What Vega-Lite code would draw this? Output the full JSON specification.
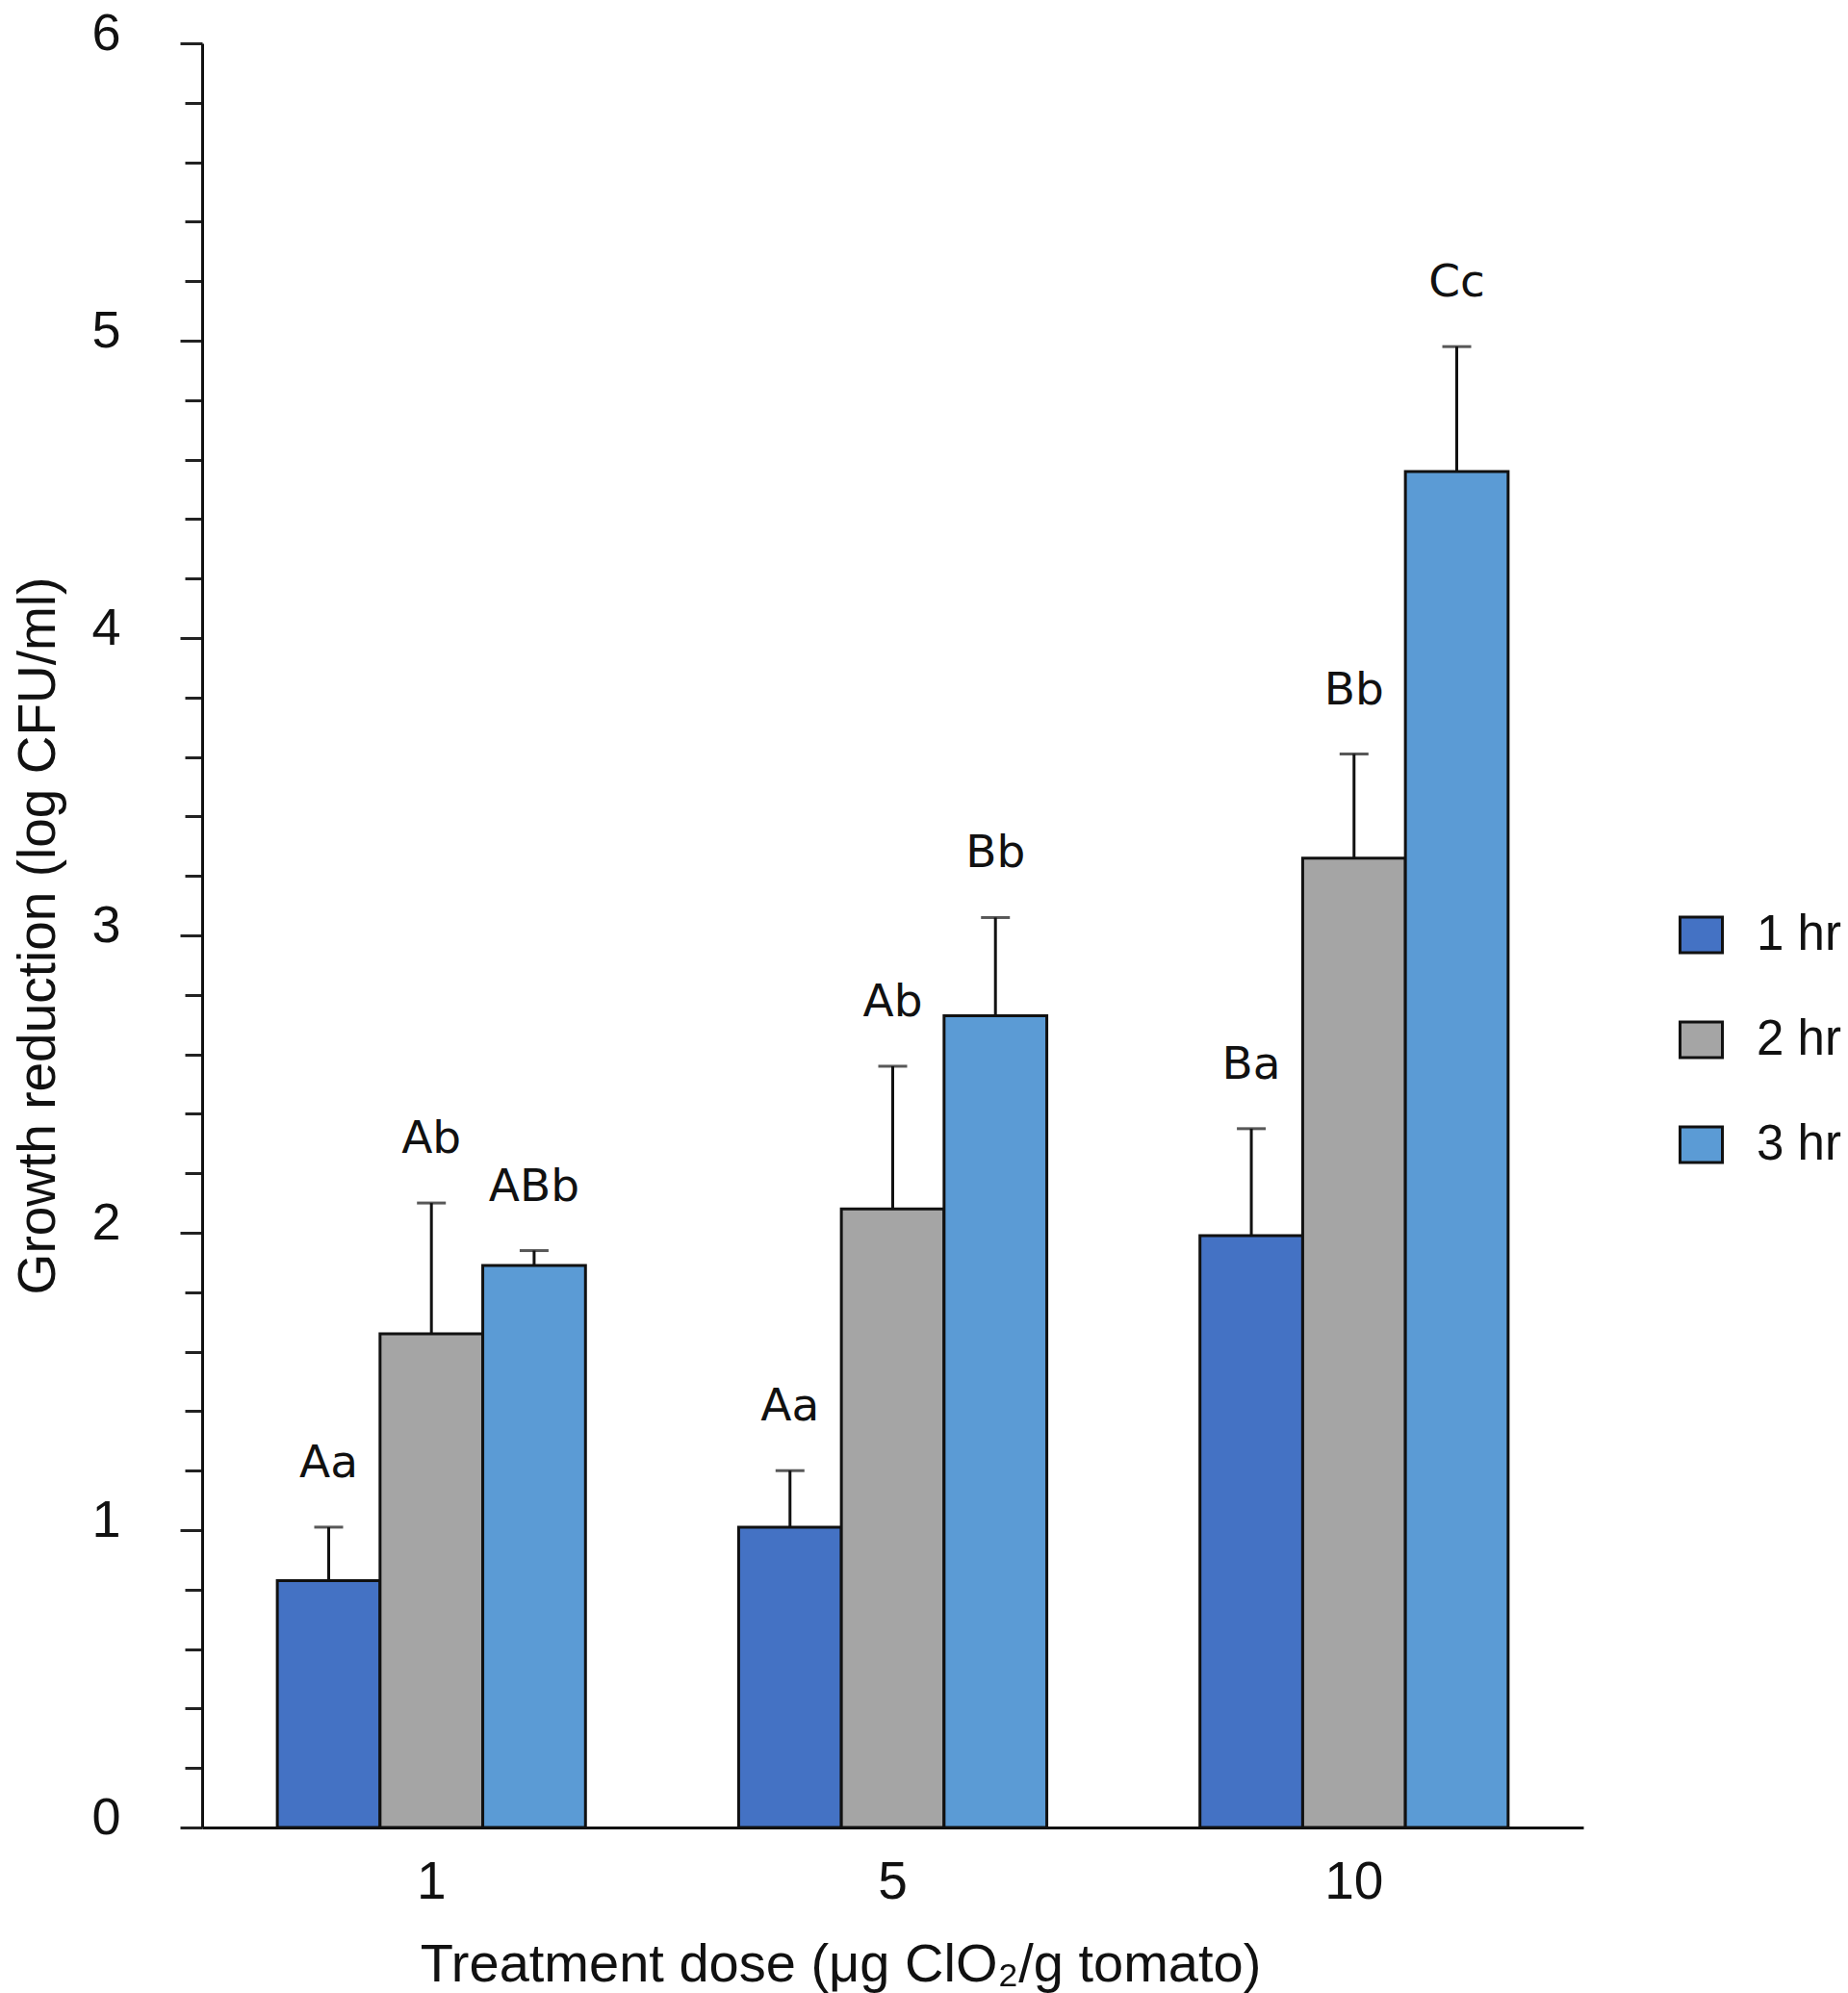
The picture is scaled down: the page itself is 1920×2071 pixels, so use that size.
{
  "$schema": "https://vega.github.io/schema/vega-lite/v6.json",
  "autosize": {"type": "none"},
  "width": 1435,
  "height": 1854,
  "padding": {"left": 210, "top": 45, "right": 275, "bottom": 172},
  "background": "white",
  "data": {
    "values": [
      {"dose": "1", "time": "1 hr", "mean": 0.83, "upper": 1.01, "label": "Aa"},
      {"dose": "1", "time": "2 hr", "mean": 1.66, "upper": 2.1, "label": "Ab"},
      {"dose": "1", "time": "3 hr", "mean": 1.89, "upper": 1.94, "label": "ABb"},
      {"dose": "5", "time": "1 hr", "mean": 1.01, "upper": 1.2, "label": "Aa"},
      {"dose": "5", "time": "2 hr", "mean": 2.08, "upper": 2.56, "label": "Ab"},
      {"dose": "5", "time": "3 hr", "mean": 2.73, "upper": 3.06, "label": "Bb"},
      {"dose": "10", "time": "1 hr", "mean": 1.99, "upper": 2.35, "label": "Ba"},
      {"dose": "10", "time": "2 hr", "mean": 3.26, "upper": 3.61, "label": "Bb"},
      {"dose": "10", "time": "3 hr", "mean": 4.56, "upper": 4.98, "label": "Cc"}
    ]
  },
  "encoding": {
    "x": {
      "field": "dose",
      "type": "nominal",
      "sort": ["1", "5", "10"],
      "scale": {"paddingInner": 0.332, "paddingOuter": 0.163},
      "axis": {
        "title": "Treatment dose (μg ClO₂/g tomato)",
        "titleX": 663,
        "titlePadding": 31,
        "titleFontSize": 56,
        "titleFontWeight": "normal",
        "labelAngle": 0,
        "labelFontSize": 55,
        "labelPadding": 30,
        "ticks": false,
        "tickSize": 0,
        "domainColor": "#111",
        "domainWidth": 3
      }
    },
    "xOffset": {"field": "time", "type": "nominal", "scale": {"paddingInner": 0, "paddingOuter": 0}}
  },
  "layer": [
    {
      "mark": {"type": "bar", "stroke": "#111", "strokeWidth": 3},
      "encoding": {
        "y": {
          "field": "mean",
          "type": "quantitative",
          "scale": {"domain": [0, 6], "nice": false},
          "axis": {
            "title": "Growth reduction (log CFU/ml)",
            "titleFontSize": 55,
            "titleFontWeight": "normal",
            "titlePadding": 26,
            "values": [0, 0.2, 0.4, 0.6, 0.8, 1, 1.2, 1.4, 1.6, 1.8, 2, 2.2, 2.4, 2.6, 2.8, 3, 3.2, 3.4, 3.6, 3.8, 4, 4.2, 4.4, 4.6, 4.8, 5, 5.2, 5.4, 5.6, 5.8, 6],
            "labelExpr": "datum.value % 1 === 0 ? format(datum.value, 'd') : ''",
            "labelFontSize": 54,
            "labelPadding": 62,
            "labelOffset": -10,
            "tickSize": {"condition": {"test": "datum.value % 1 === 0", "value": 23}, "value": 18},
            "tickColor": "#222",
            "tickWidth": 3,
            "domainColor": "#111",
            "domainWidth": 3,
            "grid": false
          }
        },
        "color": {
          "field": "time",
          "type": "nominal",
          "scale": {"domain": ["1 hr", "2 hr", "3 hr"], "range": ["#4472c4", "#a5a5a5", "#5b9bd5"]},
          "legend": {
            "title": null,
            "orient": "none",
            "legendX": 1532,
            "legendY": 901,
            "symbolType": "M-1,-0.84H1V0.84H-1Z",
            "symbolSize": 1936,
            "symbolStrokeColor": "#111",
            "symbolStrokeWidth": 3,
            "symbolOpacity": 1,
            "labelFontSize": 51,
            "labelOffset": 32,
            "rowPadding": 57,
            "padding": 0
          }
        }
      }
    },
    {
      "mark": {"type": "rule", "color": "#111", "strokeWidth": 3},
      "encoding": {
        "y": {"field": "mean", "type": "quantitative"},
        "y2": {"field": "upper"}
      }
    },
    {
      "mark": {"type": "tick", "color": "#111", "thickness": 3, "size": 30, "orient": "horizontal"},
      "encoding": {
        "y": {"field": "upper", "type": "quantitative"}
      }
    },
    {
      "mark": {"type": "text", "font": "DejaVu Sans", "fontSize": 47, "baseline": "middle", "dy": -66, "color": "#111"},
      "encoding": {
        "y": {"field": "upper", "type": "quantitative"},
        "text": {"field": "label"}
      }
    }
  ],
  "config": {
    "font": "Liberation Sans",
    "view": {"stroke": null},
    "axis": {"labelColor": "#111", "titleColor": "#111", "labelFont": "Liberation Sans", "titleFont": "Liberation Sans"},
    "legend": {"labelColor": "#111", "labelFont": "Liberation Sans"}
  }
}
